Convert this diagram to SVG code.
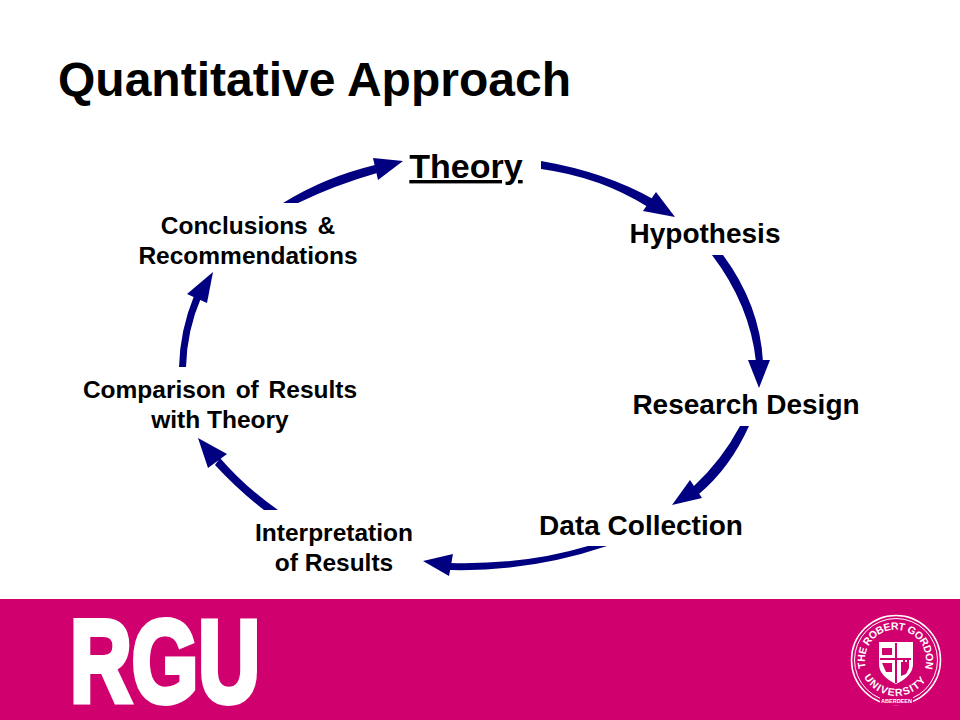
<svg xmlns="http://www.w3.org/2000/svg" width="960" height="720" viewBox="0 0 960 720">
<style>
text{font-family:"Liberation Sans",Arial,sans-serif;font-weight:700;fill:#000}
.l{font-size:24.500px;text-anchor:middle}
.m{font-size:28px;text-anchor:middle}
.h{fill:#000080}
.w{fill:#fff}
.s{fill:none;stroke:#fff}
.seal{fill:#fff;font-size:10.500px}
</style>
<defs>
<path id="top" d="M866 668A30.500 30.500 0 1 1 925 668"/>
<path id="bot" d="M864 677A36.500 36.500 0 0 0 928 677"/>
</defs>
<rect width="960" height="720" fill="#fff"/>
<rect y="599" width="960" height="121" fill="#d0006f"/>
<text x="58" y="96" font-size="48">Quantitative Approach</text>
<g id="connectors" class="h">
<path d="M541 161V169Q600 177 648 207L653 199Q605 172 541 161Z"/><polygon points="675,217 643,211 656,192"/>
<path d="M712 255H723Q760 305 763 362H756Q750 305 712 255Z"/><polygon points="759,388 748,360 770,360"/>
<path d="M740 426H749Q730 468 699 494L693 487Q722 460 740 426Z"/><polygon points="672,505 690,480 702,498"/>
<path d="M588 546H607Q530 572 450 570V563Q525 565 588 546Z"/><polygon points="423,561 453,554 449,576"/>
<path d="M264 510H278Q245 487 220 458L215 465Q238 490 264 510Z"/><polygon points="198,438 227,454 208,468"/>
<path d="M179 367H186Q187 330 201 298L194 296Q180 330 179 367Z"/><polygon points="213,272 187,294 207,303"/>
<path d="M283 203H298Q335 185 377 173L375 165Q325 177 283 203Z"/><polygon points="403,161 373,158 378,180"/>
</g>
<g id="theory"><text x="466" y="178" style="font-size:34px;text-anchor:middle" text-decoration="underline">Theory</text></g>
<g id="hypothesis"><text class="m" x="705" y="243">Hypothesis</text></g>
<g id="research-design"><text class="m" x="746" y="414">Research Design</text></g>
<g id="data-collection"><text class="m" x="641" y="535">Data Collection</text></g>
<g id="interpretation"><text class="l" x="334" y="541">Interpretation</text><text class="l" x="334" y="571">of Results</text></g>
<g id="comparison"><text class="l" x="220" y="398" word-spacing="3">Comparison of Results</text><text class="l" x="220" y="428">with Theory</text></g>
<g id="conclusions"><text class="l" x="248" y="234" word-spacing="3">Conclusions &amp;</text><text class="l" x="248" y="264">Recommendations</text></g>
<g id="logo">
<text transform="translate(70 702) scale(.737 1)" style="fill:#fff;font-size:116px" stroke="#fff" stroke-width="6">RGU</text>
</g>
<g id="seal">
<circle class="s" cx="896" cy="660" r="44.500" stroke-width="1.500"/>
<circle class="s" cx="896" cy="660" r="41.500" stroke-width="1"/>
<rect x="880" y="697" width="33" height="8" fill="#d0006f"/>
<text class="seal"><textPath href="#top" textLength="112" lengthAdjust="spacing">THE ROBERT GORDON</textPath></text>
<text class="seal"><textPath href="#bot" textLength="74" lengthAdjust="spacing">UNIVERSITY</textPath></text>
<text x="896.500" y="703" style="fill:#fff;font-size:5.500px;text-anchor:middle">ABERDEEN</text>
<path class="w" d="M879 642H913V664Q913 676 896 684Q879 676 879 664Z"/>
<path d="M895 643H897V683H895ZM880 658H911V660H880Z" fill="#d0006f"/>
<path d="M901 676V662H903V658H905V662H907V658H909V668L906 674Z" fill="#d0006f"/>
<path d="M882 648H892V655H882ZM882 663H892V672H886Z" fill="#d0006f"/>
</g>
</svg>
